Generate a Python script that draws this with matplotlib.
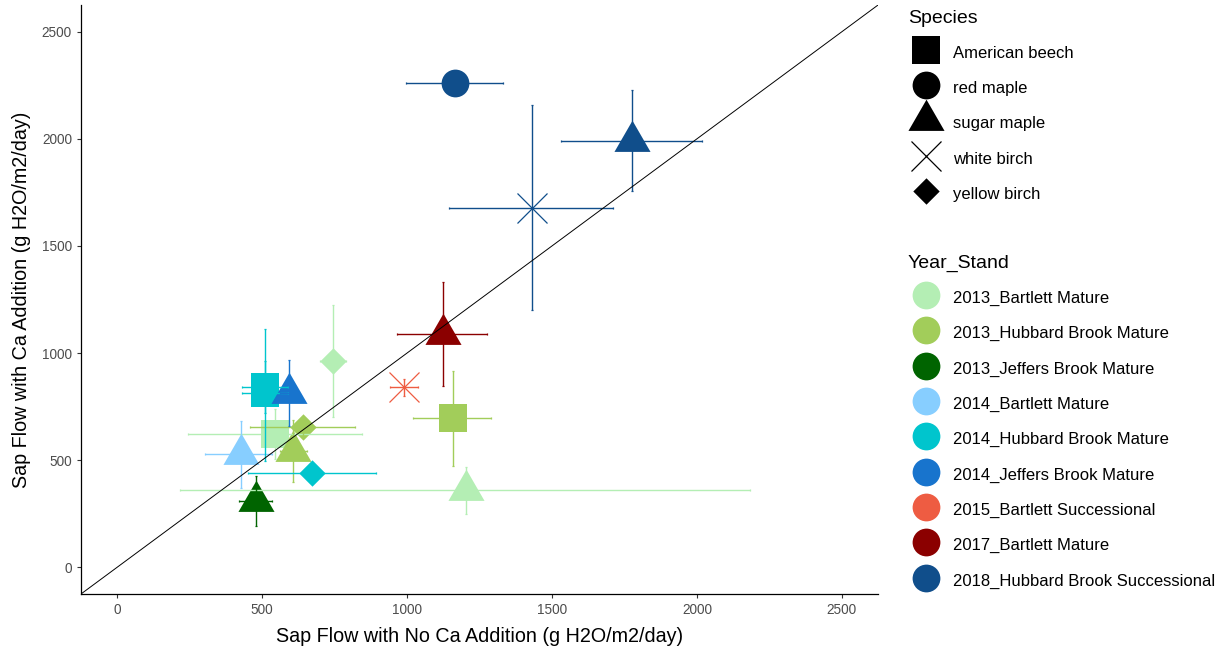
import matplotlib
matplotlib.use('Agg')
import matplotlib.pyplot as plt
from matplotlib.lines import Line2D
from matplotlib.path import Path

plt.rcParams['font.family'] = ['Liberation Sans', 'DejaVu Sans']

# Mean sap flow per stand/species, with and without Ca addition, plus error ranges
stand = ['2013_Bartlett Mature', '2013_Bartlett Mature', '2013_Bartlett Mature',
         '2013_Hubbard Brook Mature', '2013_Hubbard Brook Mature', '2013_Hubbard Brook Mature',
         '2013_Jeffers Brook Mature', '2014_Bartlett Mature',
         '2014_Hubbard Brook Mature', '2014_Hubbard Brook Mature', '2014_Hubbard Brook Mature',
         '2014_Jeffers Brook Mature', '2015_Bartlett Successional', '2017_Bartlett Mature',
         '2018_Hubbard Brook Successional', '2018_Hubbard Brook Successional',
         '2018_Hubbard Brook Successional']
species = ['American beech', 'sugar maple', 'yellow birch',
           'American beech', 'sugar maple', 'yellow birch',
           'sugar maple', 'sugar maple',
           'American beech', 'American beech', 'yellow birch',
           'sugar maple', 'white birch', 'sugar maple',
           'red maple', 'sugar maple', 'white birch']
no_ca = [545, 1203, 746, 1157, 608, 642, 479, 428, 510, 510, 671, 593, 990, 1123, 1166, 1776, 1430]
with_ca = [621, 360, 961, 696, 542, 653, 308, 528, 813, 841, 438, 813, 841, 1089, 2262, 1991, 1678]
no_ca_lo = [245, 217, 700, 1021, 560, 459, 421, 303, 431, 431, 452, 560, 942, 964, 997, 1531, 1145]
no_ca_hi = [844, 2183, 790, 1290, 655, 821, 534, 534, 590, 590, 893, 625, 1038, 1276, 1331, 2017, 1711]
ca_lo = [505, 250, 701, 473, 399, 610, 193, 368, 495, 720, 400, 660, 800, 847, 2215, 1757, 1201]
ca_hi = [738, 470, 1224, 916, 685, 700, 425, 684, 1112, 963, 476, 967, 880, 1332, 2310, 2226, 2159]

stand_levels = ['2013_Bartlett Mature', '2013_Hubbard Brook Mature', '2013_Jeffers Brook Mature',
                '2014_Bartlett Mature', '2014_Hubbard Brook Mature', '2014_Jeffers Brook Mature',
                '2015_Bartlett Successional', '2017_Bartlett Mature',
                '2018_Hubbard Brook Successional']
stand_colors = ['#B4EEB4', '#A2CD5A', '#006400', '#87CEFF', '#00C5CD', '#1874CD',
                '#EE5C42', '#8B0000', '#104E8B']
species_levels = ['American beech', 'red maple', 'sugar maple', 'white birch', 'yellow birch']

ticks = [0, 500, 1000, 1500, 2000, 2500]

# filled shapes similar to R's pch 15/16/17/4/18
tri = Path([(0, 1.155), (-1, -0.577), (1, -0.577), (0, 1.155)],
           [Path.MOVETO, Path.LINETO, Path.LINETO, Path.CLOSEPOLY])
sq = Path([(-1, -1), (1, -1), (1, 1), (-1, 1), (-1, -1)],
          [Path.MOVETO, Path.LINETO, Path.LINETO, Path.LINETO, Path.CLOSEPOLY])
dia = Path([(0, 1), (1, 0), (0, -1), (-1, 0), (0, 1)],
           [Path.MOVETO, Path.LINETO, Path.LINETO, Path.LINETO, Path.CLOSEPOLY])
shape = {'American beech': (sq, 20), 'red maple': ('o', 20), 'sugar maple': (tri, 30),
         'white birch': ('x', 21), 'yellow birch': (dia, 19)}
col = dict(zip(stand_levels, stand_colors))

fig = plt.figure(figsize=(12.2, 6.51), dpi=100)
ax = fig.add_axes([0.0664, 0.0876, 0.6533, 0.9047])

for i in range(len(stand)):
    m, ms = shape[species[i]]
    c = col[stand[i]]
    ax.plot(no_ca[i], with_ca[i], marker=m, ms=ms, mew=0.9 if m == 'x' else 0,
            color=c, ls='none', zorder=2)

# error bars go on top of the points
for i in range(len(stand)):
    c = col[stand[i]]
    ax.errorbar(no_ca[i], with_ca[i],
                yerr=[[with_ca[i] - ca_lo[i]], [ca_hi[i] - with_ca[i]]],
                fmt='none', ecolor=c, elinewidth=1.0, capsize=1.0, capthick=0.9, zorder=3)
    ax.errorbar(no_ca[i], with_ca[i],
                xerr=[[no_ca[i] - no_ca_lo[i]], [no_ca_hi[i] - no_ca[i]]],
                fmt='none', ecolor=c, elinewidth=1.0, capsize=1.0, capthick=0.9, zorder=3)

# 1:1 line
ax.axline((0, 0), slope=1, color='black', lw=0.7, zorder=4)

ax.set_xlim(-125, 2625)
ax.set_ylim(-125, 2625)
ax.set_xticks(ticks)
ax.set_yticks(ticks)
ax.tick_params(colors='#333333', labelcolor='#4D4D4D', labelsize=9.8, length=3, width=0.8)
for s in ['top', 'right']:
    ax.spines[s].set_visible(False)
for s in ['left', 'bottom']:
    ax.spines[s].set_linewidth(0.9)
ax.set_xlabel('Sap Flow with No Ca Addition (g H2O/m2/day)', fontsize=14.2, labelpad=7.5)
ax.set_ylabel('Sap Flow with Ca Addition (g H2O/m2/day)', fontsize=14.2, labelpad=8)

sp_handles = [Line2D([], [], ls='none', color='black', marker=shape[s][0], ms=shape[s][1],
                     mew=0.9 if shape[s][0] == 'x' else 0) for s in species_levels]
st_handles = [Line2D([], [], ls='none', color=c, marker='o', ms=20, mew=0) for c in stand_colors]

leg_kw = dict(loc='upper left', frameon=False, fontsize=12, title_fontsize=14,
              alignment='left', borderpad=0, borderaxespad=0, handlelength=2.16,
              handletextpad=0.54, handleheight=1.5, labelspacing=0.9)
leg1 = fig.legend(sp_handles, species_levels, title='Species',
                  bbox_to_anchor=(908 / 1220, 1 - 10 / 651), **leg_kw)
leg2 = fig.legend(st_handles, stand_levels, title='Year_Stand',
                  bbox_to_anchor=(908 / 1220, 1 - 255 / 651), **leg_kw)

fig.savefig('out.png', dpi=100)
